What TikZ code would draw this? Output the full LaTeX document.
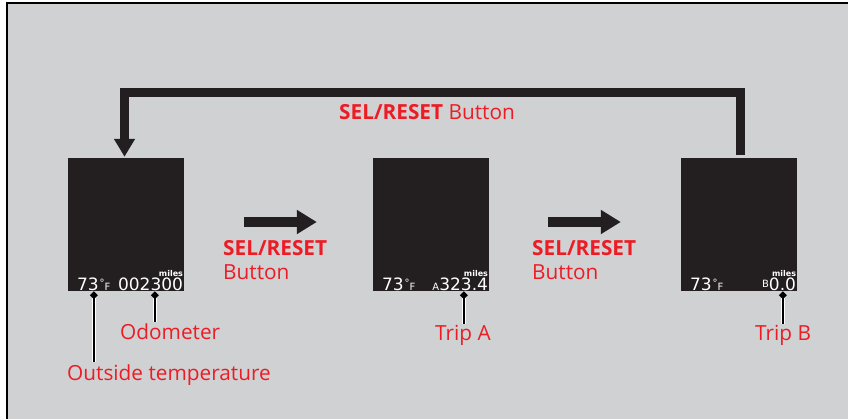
\documentclass[tikz,border=0pt]{standalone}
\usepackage{fontspec}
\setmainfont{Open Sans}
\newfontfamily\lcdfont{DejaVu Sans}
\usetikzlibrary{arrows.meta,positioning}
\definecolor{panelgray}{HTML}{D0D1D3}
\definecolor{lcdblack}{HTML}{231F20}
\definecolor{hondared}{HTML}{ED1C24}
\newcommand{\degF}{{\fontsize{10}{10}\selectfont\hspace{1pt}\raisebox{4pt}{°}F}}
\newcommand{\tripmark}[1]{{\fontsize{10}{10}\selectfont #1}}

\begin{document}
\begin{tikzpicture}[x=1pt,y=-1pt,
  every node/.style={inner sep=0pt},
  screen/.style={fill=lcdblack,minimum width=116pt,minimum height=133pt},
  callout/.style={text=hondared,font=\fontsize{20.8}{24}\selectfont,align=left},
  lcd/.style={text=white,font=\lcdfont\fontsize{17}{17}\selectfont},
  unit/.style={text=white,font=\lcdfont\bfseries\fontsize{8}{8}\selectfont},
  fat/.style={draw=lcdblack,line width=10pt,-{Triangle[length=20pt,width=23pt]}},
  loopback/.style={draw=lcdblack,line width=9pt,line join=miter,
    -{Triangle[length=18pt,width=20pt]}},
  pointer/.style={draw=black,line width=2.6pt,shorten >=2pt,
    {Diamond[length=8pt,width=8pt]}-,
    preaction={draw=white,line width=4.6pt}}
]
  \useasboundingbox (0,0) rectangle (848,419);
  \fill[panelgray] (7,3) rectangle (848,419);
  \draw[line width=1.5pt] (7,419) -- (7,3) -- (848,3);

  % the three displays
  \node[screen] (scr1) at (126,224.5) {};
  \node[screen] (scr2) at (431,224.5) {};
  \node[screen] (scr3) at (739,224.5) {};

  \node[lcd,anchor=base west] (temp1) at ([xshift=9pt,yshift=1pt]scr1.south west) {73\degF};
  \node[lcd,anchor=base east] (odo) at ([xshift=-1pt,yshift=1pt]scr1.south east) {002300};
  \node[unit,anchor=base east] (unit1) at ([xshift=-1pt,yshift=15pt]scr1.south east) {miles};

  \node[lcd,anchor=base west] (temp2) at ([xshift=9pt,yshift=1pt]scr2.south west) {73\degF};
  \node[lcd,anchor=base east] (tripa) at ([xshift=-1pt,yshift=1pt]scr2.south east) {\tripmark{A}323.4};
  \node[unit,anchor=base east] (unit2) at ([xshift=-1pt,yshift=15pt]scr2.south east) {miles};

  \node[lcd,anchor=base west] (temp3) at ([xshift=9pt,yshift=1pt]scr3.south west) {73\degF};
  \node[lcd,anchor=base east] (tripb) at ([xshift=-1pt,yshift=1pt]scr3.south east) {\raisebox{3pt}{\tripmark{B}}0.0};
  \node[unit,anchor=base east] (unit3) at ([xshift=-1pt,yshift=15pt]scr3.south east) {miles};

  % button labels
  \node[callout,anchor=base west] (looplbl) at (339,120) {\textbf{SEL/RESET} Button};
  \node[callout,anchor=base west] (sel1) at (223,280) {\textbf{SEL/RESET}\\Button};
  \node[callout,anchor=base west] (sel2) at (532,280) {\textbf{SEL/RESET}\\Button};

  % callouts
  \node[callout,anchor=base west] (templbl) at (67,380) {Outside temperature};
  \node[callout,anchor=base west] (odolbl) at (120,340) {Odometer};
  \node[callout,anchor=base west] (tripalbl) at (435,341) {Trip A};
  \node[callout,anchor=base west] (tripblbl) at (755,341) {Trip B};

  \coordinate (tempmark) at ([xshift=26pt]scr1.south west);
  \coordinate (odomark) at ([xshift=87pt]scr1.south west);
  \coordinate (tripamark) at ([xshift=91pt]scr2.south west);
  \coordinate (tripbmark) at ([xshift=102pt]scr3.south west);

  \draw[pointer] (tempmark) -- (tempmark |- templbl.north);
  \draw[pointer] (odomark) -- (odomark |- odolbl.north);
  \draw[pointer] (tripamark) -- (tripamark |- tripalbl.north);
  \draw[pointer] (tripbmark) -- (tripbmark |- tripblbl.north);

  % arrows
  \draw[fat] ([xshift=60pt,yshift=2.5pt]scr1.east) -- ([xshift=-56pt,yshift=2.5pt]scr2.west);
  \draw[fat] ([xshift=59pt,yshift=2.5pt]scr2.east) -- ([xshift=-60pt,yshift=2.5pt]scr3.west);

  \coordinate (looptop) at (431,93);
  \coordinate (loopstart) at ([xshift=1.5pt,yshift=3pt]scr3.north);
  \coordinate (loopend) at ([xshift=-1.5pt,yshift=1pt]scr1.north);
  \draw[loopback] (loopstart) -- (loopstart |- looptop) -- (loopend |- looptop) -- (loopend);
\end{tikzpicture}
\end{document}
